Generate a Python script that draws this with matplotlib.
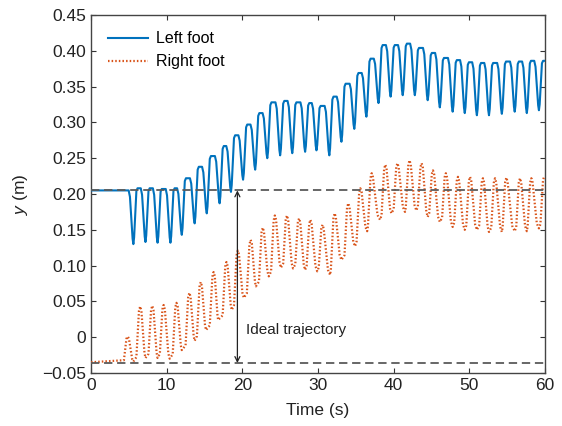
import numpy as np
import matplotlib
matplotlib.use("Agg")
import matplotlib.pyplot as plt

plt.rcParams['font.family'] = ['Liberation Sans', 'DejaVu Sans']
plt.rcParams['mathtext.fontset'] = 'custom'
plt.rcParams['mathtext.rm'] = 'Liberation Sans'
plt.rcParams['mathtext.it'] = 'Liberation Sans:italic'
plt.rcParams['lines.scale_dashes'] = False

# ---- data ----
ideal_top = 0.205
ideal_bottom = -0.036

# left foot: start level, dip times, dip bottoms, plateau level after each dip
left_start = 0.205
left_dip_t = [5.6, 7.2, 8.8, 10.5, 12.0, 13.7, 15.3, 17.0, 18.5, 20.1, 21.7, 23.3,
              25.0, 26.6, 28.3, 29.8, 31.5, 33.1, 34.8, 36.4, 38.0, 39.6, 41.2, 42.8,
              44.5, 46.1, 47.8, 49.4, 51.0, 52.6, 54.3, 56.0, 57.6, 59.2]
left_dip_y = [0.130, 0.133, 0.132, 0.132, 0.143, 0.159, 0.173, 0.187, 0.203, 0.220,
              0.234, 0.250, 0.254, 0.257, 0.259, 0.261, 0.254, 0.273, 0.291, 0.308,
              0.327, 0.336, 0.338, 0.338, 0.331, 0.321, 0.315, 0.313, 0.310, 0.310,
              0.312, 0.315, 0.313, 0.317]
left_top_y = [0.208, 0.208, 0.207, 0.208, 0.222, 0.238, 0.253, 0.267, 0.282, 0.297,
              0.313, 0.328, 0.330, 0.328, 0.327, 0.323, 0.336, 0.354, 0.369, 0.389,
              0.408, 0.408, 0.410, 0.404, 0.397, 0.390, 0.387, 0.384, 0.383, 0.383,
              0.385, 0.385, 0.386, 0.386]

# right foot: start level, peak times / values, trough times / values
right_start = -0.035
right_peak_t = [4.85, 6.5, 8.1, 9.6, 11.3, 13.0, 14.5, 16.2, 17.9, 19.4, 21.1, 22.7,
                24.3, 25.9, 27.5, 29.0, 30.6, 32.2, 34.0, 35.6, 37.1, 38.9, 40.5, 42.1,
                43.7, 45.2, 46.9, 48.5, 50.1, 51.8, 53.4, 54.9, 56.7, 58.2, 59.9]
right_peak_y = [0.001, 0.043, 0.044, 0.045, 0.048, 0.062, 0.077, 0.091, 0.105, 0.121,
                0.136, 0.153, 0.170, 0.170, 0.166, 0.164, 0.157, 0.173, 0.187, 0.208,
                0.229, 0.241, 0.243, 0.247, 0.243, 0.233, 0.229, 0.224, 0.224, 0.222,
                0.222, 0.223, 0.222, 0.222, 0.225]
right_trough_t = [5.6, 7.2, 8.8, 10.4, 12.0, 13.7, 15.2, 16.8, 18.6, 20.2, 21.8, 23.5,
                  25.1, 26.7, 28.3, 29.9, 31.6, 33.1, 34.9, 36.5, 38.2, 39.7, 41.5, 43.0,
                  44.5, 46.1, 47.8, 49.4, 51.0, 52.6, 54.3, 56.0, 57.6, 59.2]
right_trough_y = [-0.034, -0.029, -0.029, -0.030, -0.018, -0.005, 0.010, 0.024, 0.038,
                  0.055, 0.071, 0.085, 0.097, 0.096, 0.094, 0.092, 0.087, 0.108, 0.127,
                  0.148, 0.164, 0.173, 0.175, 0.177, 0.168, 0.161, 0.154, 0.150, 0.150,
                  0.147, 0.147, 0.148, 0.148, 0.152]

x_ticks = [0, 10, 20, 30, 40, 50, 60]
y_ticks = [-0.05, 0, 0.05, 0.10, 0.15, 0.20, 0.25, 0.30, 0.35, 0.40, 0.45]
y_tick_labels = ['\u22120.05', '0', '0.05', '0.10', '0.15', '0.20', '0.25', '0.30',
                 '0.35', '0.40', '0.45']


def left_path():
    # plateau -> V shaped dip -> next plateau
    ts, ys = [0.0], [left_start]
    prev = left_start
    for td, b, top in zip(left_dip_t, left_dip_y, left_top_y):
        d1 = prev - b
        d2 = top - b
        ts += [td - 0.62, td - 0.45, td - 0.1, td, td + 0.1, td + 0.4, td + 0.55]
        ys += [prev, prev - 0.12 * d1, b + 0.1 * d1, b, b + 0.12 * d2, top - 0.05 * d2, top]
        prev = top
    ts.append(60.0)
    ys.append(prev)
    return np.array(ts), np.array(ys)


def right_path():
    # low level -> narrow peak -> rounded trough
    ts, ys = [0.0], [right_start]
    prev = right_start
    troughs = list(zip(right_trough_t, right_trough_y))
    for k, (tp, p) in enumerate(zip(right_peak_t, right_peak_y)):
        d1 = p - prev
        ts += [tp - 0.5, tp - 0.16, tp]
        ys += [prev + 0.08 * d1, p - 0.08 * d1, p]
        if k < len(troughs):
            tr, v = troughs[k]
            d2 = p - v
            ts += [tp + 0.16, tp + 0.5 * (tr - tp) + 0.22, tr]
            ys += [p - 0.08 * d2, v + 0.1 * d2, v]
            prev = v
    return np.array(ts), np.array(ys)


fig = plt.figure(figsize=(5.62, 4.26), dpi=100)
ax = fig.add_axes([0.1619, 0.1244, 0.8078, 0.8404])

tl, yl = left_path()
tr_, yr = right_path()
ax.plot(tl, yl, color='#0072BD', lw=1.5, label='Left foot', zorder=3)
ax.plot(tr_, yr, color='#D95319', lw=1.6, linestyle=(0, (1.1, 1.5)), label='Right foot', zorder=3)

for yv in (ideal_top, ideal_bottom):
    ax.plot([0, 60], [yv, yv], color='#5a5a5a', lw=1.3, linestyle=(0, (6.0, 3.4)), zorder=4)

ax.annotate('', xy=(19.35, ideal_top), xytext=(19.35, ideal_bottom),
            arrowprops=dict(arrowstyle='<->', color='#222222', lw=0.9, mutation_scale=9,
                            shrinkA=0, shrinkB=0), zorder=5)
ax.text(20.5, 0.010, 'Ideal trajectory', fontsize=11, va='center', ha='left', color='#222222')

ax.set_xlim(0, 60)
ax.set_ylim(-0.05, 0.45)
ax.set_xticks(x_ticks)
ax.set_yticks(y_ticks)
ax.set_yticklabels(y_tick_labels)
ax.tick_params(direction='in', top=True, right=True, length=3.5, width=0.8,
               labelsize=12.5, colors='#333333', labelcolor='#222222')
for s in ax.spines.values():
    s.set_color('#444444')
    s.set_linewidth(1.0)

ax.set_xlabel('Time (s)', fontsize=12.5, color='#222222', labelpad=7)
ax.set_ylabel('$y$ (m)', fontsize=12.5, color='#222222', labelpad=9)

ax.legend(loc='upper left', frameon=False, fontsize=11.5, handlelength=2.5,
          handletextpad=0.5, bbox_to_anchor=(0.005, 0.995), labelspacing=0.5)

fig.savefig('out.png', dpi=100)
